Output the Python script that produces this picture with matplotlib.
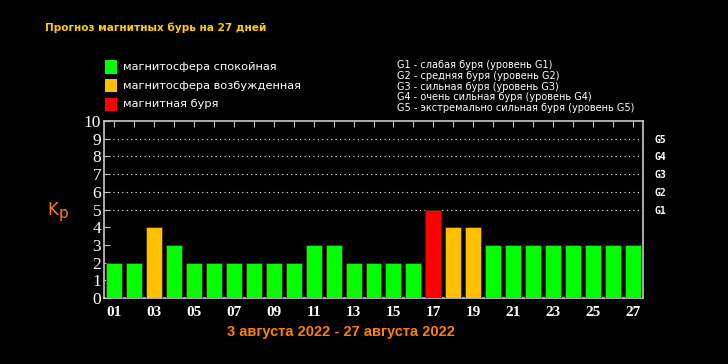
import numpy as np
import matplotlib.pyplot as plt
from matplotlib.patches import Rectangle

days = list(range(1, 28))
kp = [2, 2, 4, 3, 2, 2, 2, 2, 2, 2, 3, 3, 2, 2, 2, 2, 5, 4, 4, 3, 3, 3, 3, 3, 3, 3, 3]
xlabels = ["%02d" % d for d in days]
g_levels = ["G1", "G2", "G3", "G4", "G5"]
g_text = [
    "G1 - слабая буря (уровень G1)",
    "G2 - средняя буря (уровень G2)",
    "G3 - сильная буря (уровень G3)",
    "G4 - очень сильная буря (уровень G4)",
    "G5 - экстремально сильная буря (уровень G5)",
]
legend_labels = ["магнитосфера спокойная", "магнитосфера возбужденная", "магнитная буря"]

GREEN, ORANGE, RED = "#00ff00", "#ffc000", "#ff0000"


def color_for(v):
    if v >= 5:
        return RED
    if v == 4:
        return ORANGE
    return GREEN


fig = plt.figure(figsize=(7.28, 3.64), dpi=100, facecolor="black")
ax = fig.add_axes([0.1429, 0.1813, 0.7403, 0.4863])
ax.set_facecolor("black")

ax.bar(days, kp, width=0.8, color=[color_for(v) for v in kp],
       edgecolor="#333300", linewidth=0.6, zorder=3)

ax.set_xlim(0.5, 27.5)
ax.set_ylim(0, 10)

for y in range(5, 10):
    ax.axhline(y, color="white", linestyle=(0, (1, 3)), linewidth=0.8, zorder=1)

for s in ax.spines.values():
    s.set_color("#c8c8c8")
    s.set_linewidth(1.2)

ax.set_yticks(range(0, 11))
ax.set_yticklabels([str(i) for i in range(0, 11)], color="white",
                   fontfamily="Liberation Serif", fontsize=12.5)
ax.tick_params(axis="y", left=False, right=True, direction="in", length=4,
               colors="#c8c8c8", pad=2)
for lbl in ax.get_yticklabels():
    lbl.set_color("white")

ax.set_xticks(days)
ax.set_xticklabels([xlabels[i] if i % 2 == 0 else "" for i in range(27)],
                   color="white", fontfamily="Liberation Serif",
                   fontweight="bold", fontsize=11)
ax.tick_params(axis="x", bottom=True, top=True, direction="in", length=4,
               colors="#c8c8c8", pad=6)
for lbl in ax.get_xticklabels():
    lbl.set_color("white")

ax2 = ax.twinx()
ax2.set_ylim(0, 10)
ax2.set_yticks(range(5, 10))
ax2.set_yticklabels(g_levels, color="white", fontfamily="DejaVu Sans Mono",
                    fontweight="bold", fontsize=7)
ax2.tick_params(axis="y", length=0, pad=8)
for s in ax2.spines.values():
    s.set_visible(False)

ax.text(-0.085, 0.5, "K", transform=ax.transAxes, color="#ff8000",
        fontsize=12, ha="right", va="center")
ax.text(-0.085, 0.48, "p", transform=ax.transAxes, color="#ff8000",
        fontsize=11, ha="left", va="center")

fig.text(0.062, 0.925, "Прогноз магнитных бурь на 27 дней", color="#ffcc00",
         fontsize=7.6, fontweight="bold", va="center")

for i, (lab, col) in enumerate(zip(legend_labels, [GREEN, ORANGE, RED])):
    yc = 0.817 - i * 0.052
    fig.patches.append(Rectangle((0.1445, yc - 0.019), 0.0165, 0.038,
                                 transform=fig.transFigure, facecolor=col,
                                 edgecolor="none"))
    fig.text(0.169, yc, lab, color="white", fontsize=8.2, va="center")

for i, t in enumerate(g_text):
    fig.text(0.546, 0.8214 - i * 0.0296, t, color="white", fontsize=7,
             va="center")

fig.text(0.469, 0.088, "3 августа 2022 - 27 августа 2022", color="#ff8000",
         fontsize=10.5, fontfamily="Liberation Sans", fontweight="bold",
         ha="center", va="center")

fig.savefig("out.png", dpi=100, facecolor="black")
